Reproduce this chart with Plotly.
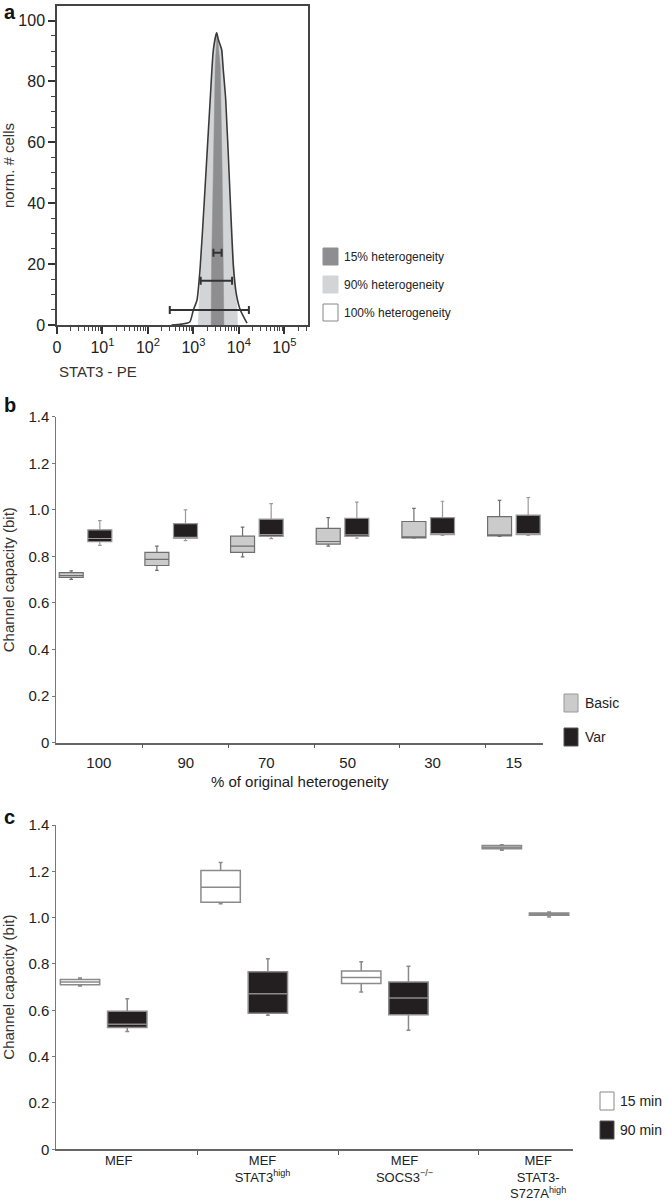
import plotly.graph_objects as go

W, H = 666, 1204


def px(x):
    return x / W


def py(y):
    return 1 - y / H


# ---------------- Panel a data (STAT3-PE histograms) ----------------
het_labels = ["15% heterogeneity", "90% heterogeneity", "100% heterogeneity"]
pe15_x = [2455, 2512, 2754, 3020, 3311, 3890, 4266, 4571, 4677]
pe15_y = [0, 20, 52, 85, 96, 85, 52, 20, 0]
pe90_x = [1259, 1318, 1413, 1820, 2455, 2818, 3236, 3631, 4266, 4898, 6166, 8318, 9120, 9333]
pe90_y = [0, 8, 13.8, 41, 74, 90.5, 96, 93, 90.5, 74, 41, 13.8, 6, 0]
pe100_x = [330, 550, 830, 1000, 1200, 1410, 1740, 2340, 2750, 3240, 3550, 4170, 4470,
           5130, 6460, 7590, 8710, 10700, 15100]
pe100_y = [0, 0.3, 1.0, 5, 8.2, 19, 41, 74, 90.5, 96, 93.6, 90.5, 85, 74, 41, 19, 10.5, 5, 0.6]
bar_lo = [2754, 1445, 302]
bar_hi = [4169, 7079, 16596]
bar_y = [23.7, 14.5, 4.9]
a_tickvals = [1, 10, 100, 1000, 10000, 100000]
a_ticktext = ["0", "10<sup>1</sup>", "10<sup>2</sup>", "10<sup>3</sup>", "10<sup>4</sup>", "10<sup>5</sup>"]

# ---------------- Panel b data ----------------
b_categories = ["100", "90", "70", "50", "30", "15"]
b_series = ["Basic", "Var"]
b_basic_q1 = [0.710, 0.761, 0.817, 0.853, 0.880, 0.888]
b_basic_med = [0.718, 0.787, 0.844, 0.864, 0.884, 0.893]
b_basic_q3 = [0.730, 0.817, 0.887, 0.920, 0.950, 0.971]
b_basic_lo = [0.701, 0.740, 0.798, 0.844, 0.878, 0.886]
b_basic_hi = [0.738, 0.844, 0.926, 0.967, 1.006, 1.041]
b_var_q1 = [0.863, 0.878, 0.886, 0.886, 0.894, 0.894]
b_var_med = [0.877, 0.880, 0.894, 0.893, 0.896, 0.898]
b_var_q3 = [0.914, 0.941, 0.960, 0.964, 0.967, 0.977]
b_var_lo = [0.847, 0.868, 0.876, 0.878, 0.890, 0.890]
b_var_hi = [0.954, 1.000, 1.027, 1.033, 1.037, 1.053]

# ---------------- Panel c data ----------------
c_categories = ["MEF", "MEF<br>STAT3<sup>high</sup>", "MEF<br>SOCS3<sup>\u2212/\u2212</sup>",
                "MEF<br>STAT3-<br>S727A<sup>high</sup>"]
c_series = ["15 min", "90 min"]
c15_q1 = [0.710, 1.067, 0.716, 1.297]
c15_med = [0.722, 1.131, 0.742, 1.304]
c15_q3 = [0.733, 1.204, 0.770, 1.311]
c15_lo = [0.705, 1.060, 0.679, 1.291]
c15_hi = [0.740, 1.238, 0.810, 1.315]
c90_q1 = [0.526, 0.587, 0.581, 1.010]
c90_med = [0.540, 0.672, 0.653, 1.014]
c90_q3 = [0.596, 0.766, 0.722, 1.020]
c90_lo = [0.509, 0.579, 0.514, 1.003]
c90_hi = [0.650, 0.823, 0.790, 1.024]

cap_ticks = [0, 0.2, 0.4, 0.6, 0.8, 1.0, 1.2, 1.4]
cap_ticktext = ["0", "0.2", "0.4", "0.6", "0.8", "1.0", "1.2", "1.4"]

# ---------------- styles ----------------
FONT_A = "Liberation Sans, Arial, sans-serif"
FONT_N = "Liberation Sans Narrow, Liberation Sans, Arial, sans-serif"
DARK = "#231f20"
MID = "#8e8e90"
LIGHT = "#d3d4d6"
BOXLIGHT = "#cbcbcb"
BOXLINE = "#8a8a8a"

# box placement within a category (in category units)
B_SHIFT, B_WIDTH = 0.167, 0.28
C_SHIFT, C_WIDTH = 0.168, 0.28

fig = go.Figure()

# ---- panel a traces ----
fig.add_trace(go.Scatter(x=pe90_x, y=pe90_y, mode="lines", fill="tozeroy",
                         fillcolor=LIGHT, line=dict(color=LIGHT, width=0.5),
                         name=het_labels[1], xaxis="x", yaxis="y", showlegend=False))
fig.add_trace(go.Scatter(x=pe15_x, y=pe15_y, mode="lines", fill="tozeroy",
                         fillcolor=MID, line=dict(color=MID, width=0.5),
                         name=het_labels[0], xaxis="x", yaxis="y", showlegend=False))
fig.add_trace(go.Scatter(x=pe100_x, y=pe100_y, mode="lines",
                         line=dict(color="#3a3a3a", width=1.6, shape="spline", smoothing=0.6),
                         name=het_labels[2], xaxis="x", yaxis="y", showlegend=False))
centers = [(lo * hi) ** 0.5 for lo, hi in zip(bar_lo, bar_hi)]
fig.add_trace(go.Scatter(
    x=centers, y=bar_y, mode="markers",
    marker=dict(size=1, color="rgba(0,0,0,0)"),
    error_x=dict(type="data", symmetric=False,
                 array=[hi - c for hi, c in zip(bar_hi, centers)],
                 arrayminus=[c - lo for lo, c in zip(bar_lo, centers)],
                 color="#333333", thickness=2, width=4),
    xaxis="x", yaxis="y", showlegend=False))

# ---- panel b traces ----
b_idx = list(range(len(b_categories)))
fig.add_trace(go.Box(x=[i - B_SHIFT for i in b_idx], q1=b_basic_q1, median=b_basic_med, q3=b_basic_q3,
                     lowerfence=b_basic_lo, upperfence=b_basic_hi, width=B_WIDTH,
                     fillcolor=BOXLIGHT, line=dict(color="#6e6e6e", width=1.2),
                     whiskerwidth=0.15, name=b_series[0],
                     xaxis="x2", yaxis="y2", showlegend=False))
fig.add_trace(go.Box(x=[i + B_SHIFT for i in b_idx], q1=b_var_q1, median=b_var_med, q3=b_var_q3,
                     lowerfence=b_var_lo, upperfence=b_var_hi, width=B_WIDTH,
                     fillcolor=DARK, line=dict(color="#9a9a9a", width=1.2),
                     whiskerwidth=0.15, name=b_series[1],
                     xaxis="x2", yaxis="y2", showlegend=False))

# ---- panel c traces ----
c_idx = list(range(len(c_categories)))
fig.add_trace(go.Box(x=[i - C_SHIFT for i in c_idx], q1=c15_q1, median=c15_med, q3=c15_q3,
                     lowerfence=c15_lo, upperfence=c15_hi, width=C_WIDTH,
                     fillcolor="white", line=dict(color=BOXLINE, width=1.5),
                     whiskerwidth=0.1, name=c_series[0],
                     xaxis="x3", yaxis="y3", showlegend=False))
fig.add_trace(go.Box(x=[i + C_SHIFT for i in c_idx], q1=c90_q1, median=c90_med, q3=c90_q3,
                     lowerfence=c90_lo, upperfence=c90_hi, width=C_WIDTH,
                     fillcolor=DARK, line=dict(color=BOXLINE, width=1.5),
                     whiskerwidth=0.1, name=c_series[1],
                     xaxis="x3", yaxis="y3", showlegend=False))

# ---------------- axes ----------------
a_minor = [k * 10 ** d for d in range(6) for k in range(2, 10) if k * 10 ** d < 10 ** 5.52]
axis_font_a = dict(family=FONT_A, size=16, color="#222")
axis_font_n = dict(family=FONT_N, size=15, color="#222")
title_font = dict(family=FONT_A, size=15, color="#333")

b_label_pos = [0.155, 1.17, 2.11, 3.06, 4.05, 5.0]
b_tick_pos = [0.667, 1.667, 2.667, 3.667, 4.667]
c_label_pos = [0.107, 1.13, 2.14, 3.09]
c_tick_pos = [0.665, 1.667, 2.665]

fig.update_layout(
    width=W, height=H, margin=dict(l=0, r=0, t=0, b=0, autoexpand=False),
    paper_bgcolor="white", plot_bgcolor="white",
    boxmode="overlay",
    xaxis=dict(domain=[px(57), px(308)], type="log", range=[0, 5.52], automargin=False,
               tickvals=a_tickvals, ticktext=a_ticktext, tickfont=axis_font_a,
               ticks="outside", ticklen=7, tickwidth=1.5, tickcolor="#333",
               minor=dict(tickvals=a_minor, ticks="outside", ticklen=4, tickwidth=1, tickcolor="#444"),
               showline=True, mirror=True, linecolor="#444", linewidth=1.5,
               showgrid=False, zeroline=False, anchor="y"),
    yaxis=dict(domain=[py(325), py(6)], range=[0, 104.8], automargin=False,
               tickvals=[0, 20, 40, 60, 80, 100], tickfont=axis_font_a,
               ticks="outside", ticklen=7, tickwidth=1.5, tickcolor="#333",
               minor=dict(dtick=5, ticks="outside", ticklen=4, tickwidth=1, tickcolor="#444"),
               showline=True, mirror=True, linecolor="#444", linewidth=1.5,
               showgrid=False, zeroline=False, anchor="x",
               title=dict(text="norm. # cells", font=title_font, standoff=4)),
    xaxis2=dict(domain=[px(56.4), px(543)], range=[-0.34, 5.34], automargin=False,
                tickvals=b_label_pos, ticktext=b_categories, tickfont=axis_font_n,
                ticks="", ticklabelstandoff=6,
                minor=dict(tickvals=b_tick_pos, ticks="outside", ticklen=4, tickwidth=1, tickcolor="#555"),
                showline=True, linecolor="#666", linewidth=1.5,
                showgrid=False, zeroline=False, anchor="y2",
                title=dict(text="% of original heterogeneity", font=axis_font_n, standoff=6)),
    yaxis2=dict(domain=[py(742.7), py(416.7)], range=[0, 1.4], automargin=False,
                tickvals=cap_ticks, ticktext=cap_ticktext, tickfont=axis_font_n,
                ticks="outside", ticklen=3, tickwidth=1, tickcolor="#777",
                showline=True, linecolor="#777", linewidth=1,
                showgrid=False, zeroline=False, anchor="x2",
                title=dict(text="Channel capacity (bit)", font=title_font, standoff=10)),
    xaxis3=dict(domain=[px(56.4), px(572.7)], range=[-0.336, 3.336], automargin=False,
                tickvals=c_label_pos, ticktext=c_categories,
                tickfont=dict(family=FONT_N, size=13, color="#222"),
                ticks="", ticklabelstandoff=-2,
                minor=dict(tickvals=c_tick_pos, ticks="outside", ticklen=4, tickwidth=1, tickcolor="#555"),
                showline=True, linecolor="#666", linewidth=1.5,
                showgrid=False, zeroline=False, anchor="y3"),
    yaxis3=dict(domain=[py(1149.3), py(825)], range=[0, 1.4], automargin=False,
                tickvals=cap_ticks, ticktext=cap_ticktext, tickfont=axis_font_n,
                ticks="outside", ticklen=3, tickwidth=1, tickcolor="#777",
                showline=True, linecolor="#777", linewidth=1,
                showgrid=False, zeroline=False, anchor="x3",
                title=dict(text="Channel capacity (bit)", font=title_font, standoff=10)),
)

# ---------------- legends (drawn as swatches + text) ----------------
shapes = []
annotations = []


def swatch(x0, x1, y0, y1, fill, line):
    shapes.append(dict(type="rect", xref="paper", yref="paper",
                       x0=px(x0), x1=px(x1), y0=py(y1), y1=py(y0),
                       fillcolor=fill, line=dict(color=line, width=1)))


def label(x, y, text, size, family, xanchor="left", bold=False, color="#222"):
    annotations.append(dict(xref="paper", yref="paper", x=px(x), y=py(y),
                            text=("<b>%s</b>" % text) if bold else text,
                            showarrow=False, xanchor=xanchor, yanchor="middle",
                            font=dict(family=family, size=size, color=color)))


# panel a legend
swatch(323, 338, 248, 265, MID, MID)
swatch(323, 338, 276, 293, LIGHT, LIGHT)
swatch(323, 338, 304, 321, "white", "#888")
label(342, 257, het_labels[0], 12, FONT_A)
label(342, 285, het_labels[1], 12, FONT_A)
label(342, 313, het_labels[2], 12, FONT_A)

# panel b legend
swatch(564, 578, 694, 712, BOXLIGHT, "#999")
swatch(564, 578, 728, 746, DARK, "#555")
label(583, 703, b_series[0], 14, FONT_N)
label(583, 737, b_series[1], 14, FONT_N)

# panel c legend
swatch(600, 614, 1092, 1110, "white", "#888")
swatch(600, 614, 1121, 1139, DARK, "#555")
label(618, 1101, c_series[0], 14, FONT_N)
label(618, 1130, c_series[1], 14, FONT_N)

# panel a x-axis title
label(57, 371, "STAT3 - PE", 15, FONT_A, color="#333")

# panel letters
label(2, 12, "a", 20, FONT_A, bold=True, color="#111")
label(2, 405, "b", 20, FONT_A, bold=True, color="#111")
label(2, 817, "c", 20, FONT_A, bold=True, color="#111")

fig.update_layout(shapes=shapes, annotations=annotations)

fig.write_html(
    "out.html",
    config={"displayModeBar": False},
    post_script="document.body.style.margin='0';document.body.style.padding='0';"
                "document.body.style.overflow='hidden';",
)
